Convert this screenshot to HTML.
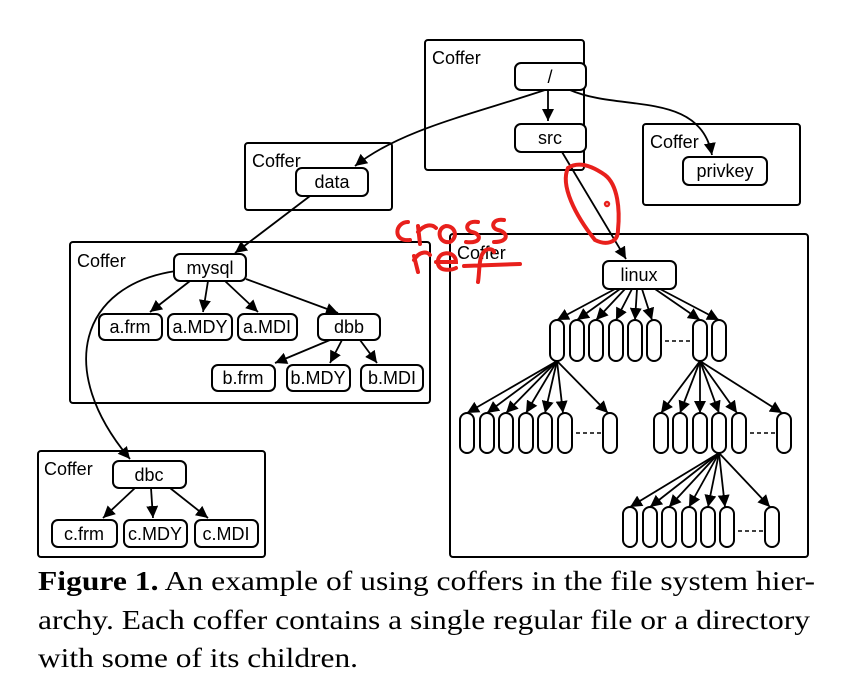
<!DOCTYPE html>
<html><head><style>
body{margin:0;background:#fff;width:867px;height:678px;overflow:hidden}
svg{display:block}
text{font-family:"Liberation Sans",sans-serif}
.n{fill:#fff;stroke:#000;stroke-width:2}
.c{fill:none;stroke:#000;stroke-width:2}
.a{fill:none;stroke:#000;stroke-width:1.8;marker-end:url(#ar)}
.l{font-size:18px;text-anchor:middle}
.cf{font-size:18px}
.cap{font-family:"Liberation Serif",serif;font-size:27px}
.d{stroke:#000;stroke-width:1.6;stroke-dasharray:4 3}
</style></head><body>
<svg width="867" height="678" viewBox="0 0 867 678">
<defs><marker id="ar" viewBox="0 0 10 10" refX="10" refY="5" markerWidth="7" markerHeight="7" orient="auto" markerUnits="userSpaceOnUse"><path d="M0,0L10,5L0,10z"/></marker>
<marker id="ar2" viewBox="0 0 10 10" refX="10" refY="5" markerWidth="12" markerHeight="12" orient="auto" markerUnits="userSpaceOnUse"><path d="M0,0L10,5L0,10z"/></marker></defs>
<style>.a{marker-end:url(#ar2)}</style>
<!-- coffers -->
<rect class="c" x="425" y="40" width="159" height="130" rx="3"/><text class="cf" x="432" y="64">Coffer</text>
<rect class="c" x="643" y="124" width="157" height="81" rx="3"/><text class="cf" x="650" y="148">Coffer</text>
<rect class="c" x="245" y="143" width="147" height="67" rx="3"/><text class="cf" x="252" y="167">Coffer</text>
<rect class="c" x="70" y="242" width="360" height="161" rx="3"/><text class="cf" x="77" y="267">Coffer</text>
<rect class="c" x="38" y="451" width="227" height="106" rx="3"/><text class="cf" x="44" y="475">Coffer</text>
<rect class="c" x="450" y="234" width="358" height="323" rx="3"/><text class="cf" x="457" y="259">Coffer</text>
<!-- connectors -->
<path class="a" d="M548,90 L548,121"/>
<path class="a" d="M545,90 C470,115 400,130 355,166"/>
<path class="a" d="M570,90 C620,112 700,90 712,155"/>
<path class="a" d="M310,196 L235,253"/>
<path class="a" d="M562,152 L626,259"/>
<path class="a" d="M176,271 C80,285 55,370 130,459"/>
<path class="a" d="M190,281 L150,312"/><path class="a" d="M208,281 L203,312"/><path class="a" d="M225,281 L258,312"/><path class="a" d="M246,279 L338,313"/>
<path class="a" d="M330,340 L275,363"/><path class="a" d="M342,340 L330,363"/><path class="a" d="M360,340 L377,363"/>
<path class="a" d="M135,488 L103,518"/><path class="a" d="M151,488 L153,518"/><path class="a" d="M170,488 L208,518"/>
<!-- linux tree arrows -->
<path class="a" d="M615,289 L557,320"/><path class="a" d="M620,289 L577,320"/><path class="a" d="M625,289 L596,320"/><path class="a" d="M632,289 L616,320"/><path class="a" d="M637,289 L635,320"/><path class="a" d="M642,289 L652,320"/><path class="a" d="M655,289 L700,320"/><path class="a" d="M660,289 L719,320"/>
<g><path class="a" d="M557,361 L467,413"/><path class="a" d="M557,361 L487,413"/><path class="a" d="M557,361 L506,413"/><path class="a" d="M557,361 L526,413"/><path class="a" d="M557,361 L545,413"/><path class="a" d="M557,361 L563,413"/><path class="a" d="M557,361 L608,413"/></g>
<g><path class="a" d="M700,361 L661,413"/><path class="a" d="M700,361 L680,413"/><path class="a" d="M700,361 L700,413"/><path class="a" d="M700,361 L719,413"/><path class="a" d="M700,361 L737,413"/><path class="a" d="M700,361 L782,413"/></g>
<g><path class="a" d="M719,453 L630,507"/><path class="a" d="M719,453 L650,507"/><path class="a" d="M719,453 L669,507"/><path class="a" d="M719,453 L689,507"/><path class="a" d="M719,453 L708,507"/><path class="a" d="M719,453 L725,507"/><path class="a" d="M719,453 L770,507"/></g>
<!-- nodes -->
<rect class="n" x="515" y="63" width="71" height="27" rx="6"/><text class="l" x="550" y="83">/</text>
<rect class="n" x="515" y="124" width="71" height="28" rx="6"/><text class="l" x="550" y="144">src</text>
<rect class="n" x="683" y="157" width="84" height="28" rx="6"/><text class="l" x="725" y="177">privkey</text>
<rect class="n" x="296" y="168" width="72" height="28" rx="6"/><text class="l" x="332" y="188">data</text>
<rect class="n" x="174" y="254" width="72" height="27" rx="6"/><text class="l" x="210" y="274">mysql</text>
<rect class="n" x="99" y="314" width="63" height="26" rx="6"/><text class="l" x="130" y="333">a.frm</text>
<rect class="n" x="168" y="314" width="64" height="26" rx="6"/><text class="l" x="200" y="333">a.MDY</text>
<rect class="n" x="238" y="314" width="59" height="26" rx="6"/><text class="l" x="267" y="333">a.MDI</text>
<rect class="n" x="318" y="314" width="62" height="26" rx="6"/><text class="l" x="349" y="333">dbb</text>
<rect class="n" x="212" y="365" width="63" height="26" rx="6"/><text class="l" x="243" y="384">b.frm</text>
<rect class="n" x="287" y="365" width="63" height="26" rx="6"/><text class="l" x="318" y="384">b.MDY</text>
<rect class="n" x="361" y="365" width="62" height="26" rx="6"/><text class="l" x="392" y="384">b.MDI</text>
<rect class="n" x="113" y="461" width="73" height="27" rx="6"/><text class="l" x="149" y="481">dbc</text>
<rect class="n" x="52" y="520" width="65" height="27" rx="6"/><text class="l" x="84" y="540">c.frm</text>
<rect class="n" x="124" y="520" width="63" height="27" rx="6"/><text class="l" x="155" y="540">c.MDY</text>
<rect class="n" x="195" y="520" width="63" height="27" rx="6"/><text class="l" x="226" y="540">c.MDI</text>
<rect class="n" x="603" y="261" width="73" height="28" rx="6"/><text class="l" x="639" y="281">linux</text>
<!-- pills -->
<g class="n">
<rect x="550" y="320" width="14" height="41" rx="7"/><rect x="570" y="320" width="14" height="41" rx="7"/><rect x="589" y="320" width="14" height="41" rx="7"/><rect x="609" y="320" width="14" height="41" rx="7"/><rect x="628" y="320" width="14" height="41" rx="7"/><rect x="647" y="320" width="14" height="41" rx="7"/><rect x="693" y="320" width="14" height="41" rx="7"/><rect x="712" y="320" width="14" height="41" rx="7"/>
<rect x="460" y="413" width="14" height="40" rx="7"/><rect x="480" y="413" width="14" height="40" rx="7"/><rect x="499" y="413" width="14" height="40" rx="7"/><rect x="519" y="413" width="14" height="40" rx="7"/><rect x="538" y="413" width="14" height="40" rx="7"/><rect x="558" y="413" width="14" height="40" rx="7"/><rect x="603" y="413" width="14" height="40" rx="7"/>
<rect x="654" y="413" width="14" height="40" rx="7"/><rect x="673" y="413" width="14" height="40" rx="7"/><rect x="693" y="413" width="14" height="40" rx="7"/><rect x="712" y="413" width="14" height="40" rx="7"/><rect x="732" y="413" width="14" height="40" rx="7"/><rect x="777" y="413" width="14" height="40" rx="7"/>
<rect x="623" y="507" width="14" height="40" rx="7"/><rect x="643" y="507" width="14" height="40" rx="7"/><rect x="662" y="507" width="14" height="40" rx="7"/><rect x="682" y="507" width="14" height="40" rx="7"/><rect x="701" y="507" width="14" height="40" rx="7"/><rect x="720" y="507" width="14" height="40" rx="7"/><rect x="765" y="507" width="14" height="40" rx="7"/>
</g>
<line class="d" x1="665" y1="341" x2="691" y2="341"/>
<line class="d" x1="576" y1="433" x2="601" y2="433"/>
<line class="d" x1="750" y1="433" x2="775" y2="433"/>
<line class="d" x1="738" y1="531" x2="763" y2="531"/>
<!-- red annotation -->
<g fill="none" stroke="#e8201c" stroke-width="4" stroke-linecap="round">
<path d="M568,168 C560,185 575,215 595,240 C605,245 618,244 618,230 C620,210 618,185 605,175 C595,168 580,160 568,168"/>
<circle cx="607" cy="204" r="1.2"/>
<path d="M408,222 C395,222 392,242 410,240"/>
<path d="M418,226 L420,244 M418,232 C425,224 432,224 436,228"/>
<path d="M446,226 C436,228 438,244 450,242 C458,238 456,226 446,226"/>
<path d="M478,222 C466,220 464,230 472,232 C482,234 482,244 466,242"/>
<path d="M504,220 C492,218 490,228 498,230 C508,232 510,242 494,242"/>
<path d="M414,256 L418,272 M414,260 C420,250 428,252 430,255"/>
<path d="M436,262 L456,262 C456,250 436,250 438,264 C440,272 452,270 456,268"/>
<path d="M478,282 C480,270 478,255 486,250 C490,248 494,250 494,252 M464,266 L520,264"/>
</g>
<!-- caption -->
<text class="cap" x="38" y="590" textLength="777" lengthAdjust="spacingAndGlyphs"><tspan font-weight="bold">Figure 1.</tspan> An example of using coffers in the file system hier-</text>
<text class="cap" x="38" y="629" textLength="772" lengthAdjust="spacingAndGlyphs">archy. Each coffer contains a single regular file or a directory</text>
<text class="cap" x="38" y="667" textLength="320" lengthAdjust="spacingAndGlyphs">with some of its children.</text>
</svg>
</body></html>
